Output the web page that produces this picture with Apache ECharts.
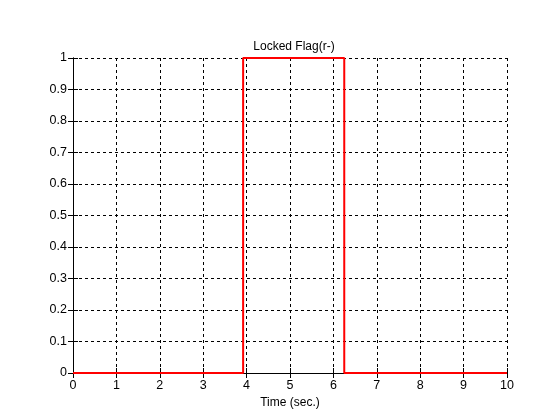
<!DOCTYPE html>
<html>
<head>
<meta charset="utf-8">
<script src="https://cdn.jsdelivr.net/npm/echarts@6/dist/echarts.min.js"></script>
<style>html,body{margin:0;padding:0;background:#fff;}#c{width:560px;height:420px;}</style>
</head>
<body>
<div id="c"></div>
<script>
var titleText = 'Locked Flag(r-)';
var xLabel = 'Time (sec.)';
var times = [0, 3.92, 3.92, 6.25, 6.25, 10];
var flag = [0, 0, 1, 1, 0, 0];
var xTicks = [0,1,2,3,4,5,6,7,8,9,10];
var yTicks = [0,0.1,0.2,0.3,0.4,0.5,0.6,0.7,0.8,0.9,1];

var font = 'Liberation Sans, Arial, sans-serif';
var chart = echarts.init(document.getElementById('c'), null, {renderer:'canvas'});
var fmtY = function(v){ return String(Math.round(v*10)/10); };
var fmtX = function(v){ return String(Math.round(v)); };
var common = {
  axisLine:{show:true, lineStyle:{color:'#000', width:1}},
  axisTick:{show:true, inside:true, length:5, lineStyle:{color:'#000'}},
};
chart.setOption({
  animation:false,
  backgroundColor:'#fff',
  title:{text:titleText, left:289, top:36, textAlign:'center',
    textStyle:{fontFamily:font, fontSize:12, fontWeight:'normal', color:'#000'}},
  grid:{left:73, right:53, top:58, bottom:47, show:false},
  xAxis:[
    Object.assign({type:'value', min:0, max:10, interval:1, position:'bottom',
      name:xLabel, nameLocation:'middle', nameGap:21,
      nameTextStyle:{fontFamily:font, fontSize:12, color:'#000'},
      axisLabel:{fontFamily:font, fontSize:12.5, color:'#000', margin:6, formatter:fmtX},
      splitLine:{show:true, lineStyle:{color:'#000', type:[3,3], width:1}}}, common),
    Object.assign({type:'value', min:0, max:10, interval:1, position:'top',
      axisLabel:{show:false}, splitLine:{show:false}}, common)
  ],
  yAxis:[
    Object.assign({type:'value', min:0, max:1, interval:0.1, position:'left',
      axisLabel:{fontFamily:font, fontSize:12.5, color:'#000', margin:6, formatter:fmtY},
      splitLine:{show:true, lineStyle:{color:'#000', type:[3,3], width:1}}}, common),
    Object.assign({type:'value', min:0, max:1, interval:0.1, position:'right',
      axisLabel:{show:false}, splitLine:{show:false}}, common)
  ],
  series:[{
    type:'line', xAxisIndex:0, yAxisIndex:0,
    data: times.map(function(t,i){return [t, flag[i]];}),
    showSymbol:false, clip:true,
    lineStyle:{color:'#ff0000', width:2},
    z:10
  }]
});
</script>
</body>
</html>
